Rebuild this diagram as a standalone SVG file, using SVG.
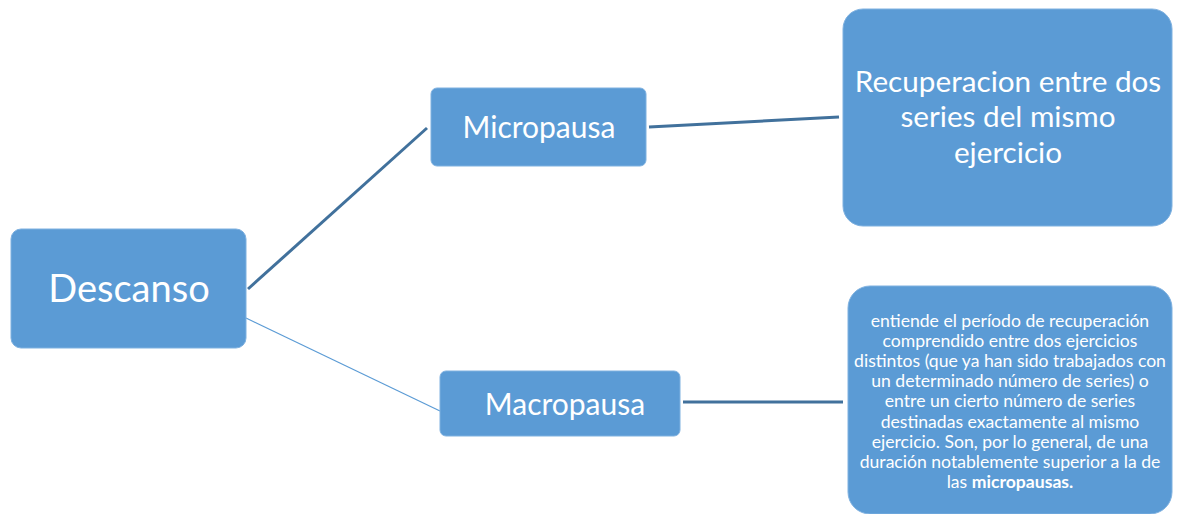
<svg xmlns="http://www.w3.org/2000/svg" width="1181" height="514" viewBox="0 0 1181 514">
<style>
.box{fill:#5b9bd5;stroke:#7fb1e0;stroke-width:1}
.t{fill:#ffffff;font-family:Lato,"Open Sans","Liberation Sans",sans-serif;text-anchor:middle}
.thick{stroke:#41719c;stroke-width:3;fill:none}
.thin{stroke:#5b9bd5;stroke-width:1.2;fill:none}
</style>
<rect width="1181" height="514" fill="#ffffff"/>
<g id="connectors">
<line class="thick" x1="248" y1="289" x2="427" y2="128"/>
<line class="thin" x1="246" y1="318" x2="440" y2="411"/>
<line class="thick" x1="649" y1="127" x2="839" y2="117"/>
<line class="thick" x1="683" y1="402" x2="843" y2="402"/>
</g>
<g id="descanso">
<rect class="box" x="11" y="229" width="235" height="119" rx="10"/>
<text class="t" x="129" y="302" font-size="38">Descanso</text>
</g>
<g id="micropausa">
<rect class="box" x="431" y="88" width="215" height="78" rx="6"/>
<text class="t" x="539" y="138" font-size="30">Micropausa</text>
</g>
<g id="macropausa">
<rect class="box" x="440" y="371" width="240" height="65" rx="6"/>
<text class="t" x="565" y="415" font-size="30">Macropausa</text>
</g>
<g id="recuperacion">
<rect class="box" x="843" y="9" width="329" height="217" rx="20"/>
<text class="t" font-size="29.7"><tspan x="1008" y="92">Recuperacion entre dos</tspan><tspan x="1008" y="127">series del mismo</tspan><tspan x="1008" y="163">ejercicio</tspan></text>
</g>
<g id="definicion">
<rect class="box" x="848" y="286" width="324" height="228" rx="22"/>
<text class="t" font-size="17.6"><tspan x="1010" y="327">entiende el período de recuperación</tspan><tspan x="1010" y="347">comprendido entre dos ejercicios</tspan><tspan x="1010" y="367">distintos (que ya han sido trabajados con</tspan><tspan x="1010" y="387">un determinado número de series) o</tspan><tspan x="1010" y="407">entre un cierto número de series</tspan><tspan x="1010" y="428">destinadas exactamente al mismo</tspan><tspan x="1010" y="448">ejercicio. Son, por lo general, de una</tspan><tspan x="1010" y="468">duración notablemente superior a la de</tspan><tspan x="1010" y="488">las <tspan font-weight="bold">micropausas.</tspan></tspan></text>
</g>
</svg>
